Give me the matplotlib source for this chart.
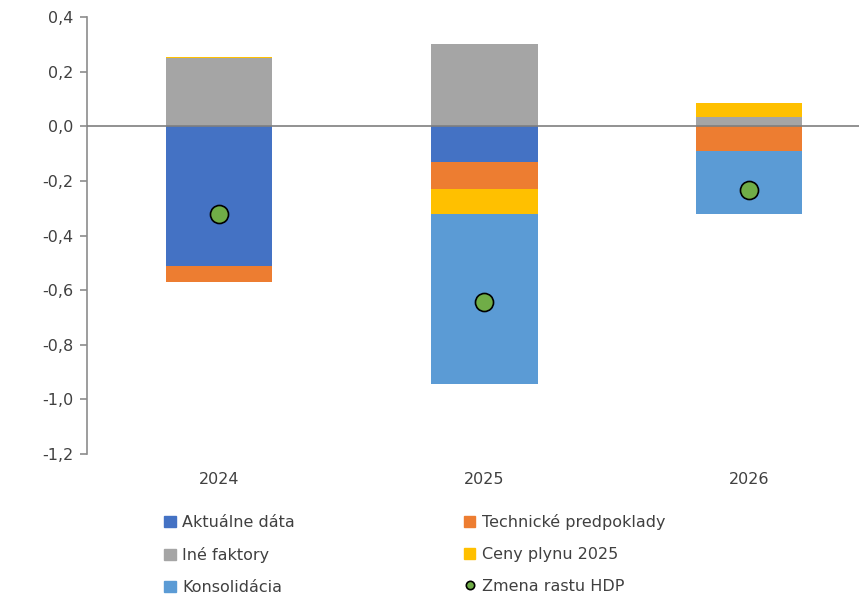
import numpy as np
import matplotlib.pyplot as plt
from matplotlib.patches import Patch
from matplotlib.lines import Line2D

years = ["2024", "2025", "2026"]

aktualne = [-0.51, -0.13, 0.0]
technicke = [-0.06, -0.10, -0.09]
ine = [0.25, 0.30, 0.035]
plyn = [0.005, -0.09, 0.05]
konsolidacia = [0.0, -0.625, -0.23]
hdp = [-0.32, -0.645, -0.235]

series = [
    ("Aktuálne dáta", aktualne, "#4472C4"),
    ("Technické predpoklady", technicke, "#ED7D31"),
    ("Iné faktory", ine, "#A5A5A5"),
    ("Ceny plynu 2025", plyn, "#FFC000"),
    ("Konsolidácia", konsolidacia, "#5B9BD5"),
]

plt.rcParams['font.family'] = ['DejaVu Sans']
fig = plt.figure(figsize=(8.59, 5.97), dpi=100)
ax = fig.add_axes([87/859, 1-454/597, 795/859, 437/597])

x = np.arange(len(years))
pos = np.zeros(len(years))
neg = np.zeros(len(years))
handles = {}
for name, vals, col in series:
    vals = np.array(vals)
    bottoms = np.where(vals >= 0, pos, neg)
    ax.bar(x, vals, 0.4, bottom=bottoms, color=col, zorder=2)
    pos = pos + np.clip(vals, 0, None)
    neg = neg + np.clip(vals, None, 0)
    handles[name] = Patch(color=col)

ax.plot(x, hdp, 'o', color="#70AD47", markeredgecolor="black",
        markeredgewidth=1.2, markersize=13, zorder=4)
handles["Zmena rastu HDP"] = Line2D([], [], marker='o', ls='', color="#70AD47",
                                    markeredgecolor="black", markeredgewidth=1.2,
                                    markersize=6)

ax.axhline(0, color="#7f7f7f", lw=1.2, zorder=3)
ax.set_xlim(-0.5, 2.5)
ax.set_ylim(-1.2, 0.4)
ticks = np.arange(-1.2, 0.41, 0.2)
ax.set_yticks(ticks)
ax.set_yticklabels([f"{v:.1f}".replace(".", ",").replace("-0,0", "0,0") for v in ticks])
ax.set_xticks(x)
ax.set_xticklabels(years)
for s in ["top", "right", "bottom"]:
    ax.spines[s].set_visible(False)
ax.spines["left"].set_color("#8c8c8c")
ax.spines["left"].set_linewidth(1.2)
ax.tick_params(axis="y", colors="#8c8c8c", labelcolor="#404040", labelsize=11.5, length=5, width=1.2, pad=5)
ax.tick_params(axis="x", length=0, labelcolor="#404040", labelsize=11.5, pad=13)

order = ["Aktuálne dáta", "Iné faktory", "Konsolidácia",
         "Technické predpoklady", "Ceny plynu 2025", "Zmena rastu HDP"]
fig.legend([handles[k] for k in order], order, ncol=2, loc="upper left",
           bbox_to_anchor=(150/859, 1-500/597), frameon=False, fontsize=11.5,
           handlelength=0.7, handleheight=0.7, handletextpad=0.4,
           columnspacing=10.6, labelspacing=1.05, labelcolor="#404040")

fig.savefig("out.png", dpi=100)
